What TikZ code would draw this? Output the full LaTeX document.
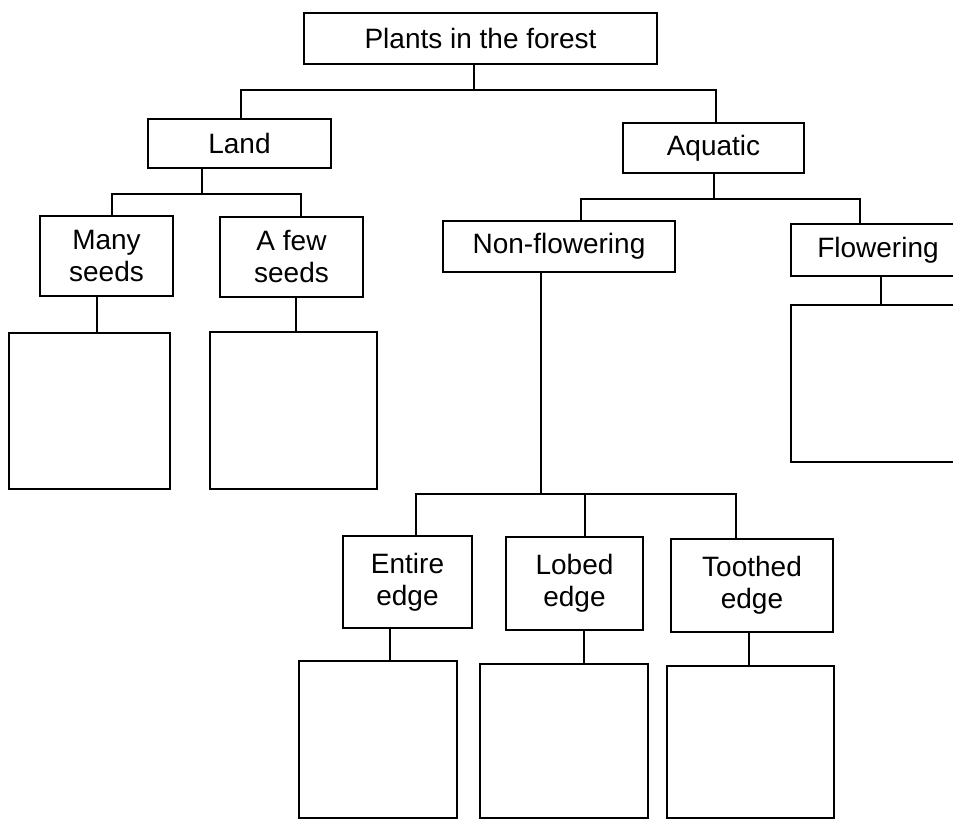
\documentclass[tikz,border=0pt]{standalone}
\usepackage{fontspec}
\setmainfont{Liberation Sans}
\begin{document}
\begin{tikzpicture}[x=1pt,y=-1pt,
  box/.style={draw,line width=1.6pt,inner sep=0pt,align=center,font=\fontsize{28}{32}\selectfont},
  link/.style={line width=1.6pt}]
\useasboundingbox (0,0) rectangle (953,822);
\clip (0,0) rectangle (953,822);
% nodes
\node[box,minimum width=353pt,minimum height=51pt] (root) at (480.5,38.5) {Plants in the forest};
\node[box,minimum width=183pt,minimum height=49pt] (land) at (239.5,143.5) {Land};
\node[box,minimum width=181pt,minimum height=50pt] (aquatic) at (713.5,148) {Aquatic};
\node[box,minimum width=133pt,minimum height=80pt] (many) at (106.5,256) {Many\\seeds};
\node[box,minimum width=143pt,minimum height=80pt] (afew) at (291.5,257) {A few\\seeds};
\node[box,minimum width=232pt,minimum height=51pt] (nonflow) at (559,246.5) {Non-flowering};
\node[box,minimum width=174pt,minimum height=52pt] (flow) at (878,250) {Flowering};
\node[box,minimum width=161pt,minimum height=156pt] (b1) at (89.5,411) {};
\node[box,minimum width=167pt,minimum height=157pt] (b2) at (293.5,410.5) {};
\node[box,minimum width=174pt,minimum height=157pt] (b3) at (878,383.5) {};
\node[box,minimum width=129pt,minimum height=92pt] (entire) at (407.5,582) {Entire\\edge};
\node[box,minimum width=137pt,minimum height=93pt] (lobed) at (574.5,583.5) {Lobed\\edge};
\node[box,minimum width=162pt,minimum height=93pt] (toothed) at (752,585.5) {Toothed\\edge};
\node[box,minimum width=158pt,minimum height=157pt] (b4) at (378,739.5) {};
\node[box,minimum width=168pt,minimum height=154pt] (b5) at (564,741) {};
\node[box,minimum width=167pt,minimum height=152pt] (b6) at (750.5,742) {};
% bus levels
\coordinate (busA) at (0,90);
\coordinate (busB) at (0,194);
\coordinate (busC) at (0,199);
\coordinate (busD) at (0,494);
% root -> land, aquatic
\draw[link] ([xshift=-6.5pt]root.south) -- ([xshift=-6.5pt]root.south |- busA);
\draw[link] ([xshift=1.5pt]land.north) -- ([xshift=1.5pt]land.north |- busA)
  -- ([xshift=2.5pt]aquatic.north |- busA) -- ([xshift=2.5pt]aquatic.north);
% land -> many, afew
\draw[link] ([xshift=-37.5pt]land.south) -- ([xshift=-37.5pt]land.south |- busB);
\draw[link] ([xshift=5.5pt]many.north) -- ([xshift=5.5pt]many.north |- busB)
  -- ([xshift=9.5pt]afew.north |- busB) -- ([xshift=9.5pt]afew.north);
% aquatic -> nonflow, flow
\draw[link] ([xshift=0.5pt]aquatic.south) -- ([xshift=0.5pt]aquatic.south |- busC);
\draw[link] ([xshift=22pt]nonflow.north) -- ([xshift=22pt]nonflow.north |- busC)
  -- ([xshift=-18pt]flow.north |- busC) -- ([xshift=-18pt]flow.north);
% nonflow -> entire, lobed, toothed
\draw[link] ([xshift=-18pt]nonflow.south) -- ([xshift=-18pt]nonflow.south |- busD);
\draw[link] ([xshift=8.5pt]entire.north) -- ([xshift=8.5pt]entire.north |- busD)
  -- ([xshift=-16pt]toothed.north |- busD) -- ([xshift=-16pt]toothed.north);
\draw[link] ([xshift=10.5pt]lobed.north) -- ([xshift=10.5pt]lobed.north |- busD);
% single children
\draw[link] ([xshift=-9.5pt]many.south) -- ([xshift=-9.5pt]many.south |- b1.north);
\draw[link] ([xshift=4.5pt]afew.south) -- ([xshift=4.5pt]afew.south |- b2.north);
\draw[link] ([xshift=3pt]flow.south) -- ([xshift=3pt]flow.south |- b3.north);
\draw[link] ([xshift=-17.5pt]entire.south) -- ([xshift=-17.5pt]entire.south |- b4.north);
\draw[link] ([xshift=9.5pt]lobed.south) -- ([xshift=9.5pt]lobed.south |- b5.north);
\draw[link] ([xshift=-3pt]toothed.south) -- ([xshift=-3pt]toothed.south |- b6.north);
\end{tikzpicture}
\end{document}
